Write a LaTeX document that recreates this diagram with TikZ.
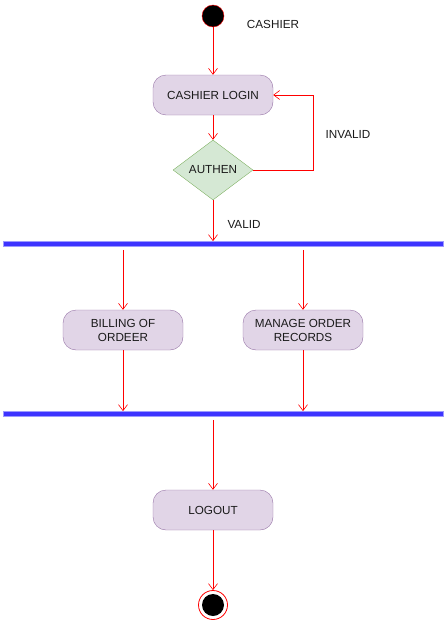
\documentclass[tikz,border=0pt]{standalone}
\usepackage{fontspec}
\setmainfont{Liberation Sans}
\usepackage{tikz}
\usetikzlibrary{arrows.meta,shapes.geometric}
\definecolor{lilac}{HTML}{E1D5E7}
\definecolor{plum}{HTML}{9673A6}
\definecolor{leaf}{HTML}{D5E8D4}
\definecolor{moss}{HTML}{82B366}
\definecolor{barblue}{HTML}{3D33FF}
\definecolor{barrim}{HTML}{9C99FF}
\definecolor{ink}{HTML}{1A1A1A}
\tikzset{
  every node/.style={font=\fontsize{11.7}{14}\selectfont,text=ink},
  activity/.style={draw=plum,fill=lilac,rounded corners=13pt,minimum width=120pt,minimum height=40pt,align=center,inner sep=2pt},
  decision/.style={diamond,draw=moss,fill=leaf,minimum width=80pt,minimum height=60pt,inner sep=0pt,aspect=1.33},
  forkbar/.style={draw=barrim,fill=barblue,minimum width=440pt,minimum height=5pt,inner sep=0pt,line width=0.8pt},
  flow/.style={-{Straight Barb[length=6pt,width=9pt]},draw=red,line width=0.6pt},
  startdot/.style={circle,draw=red,fill=black,minimum size=22pt,inner sep=0pt},
  lbl/.style={font=\fontsize{11.7}{14}\selectfont,text=ink},
}
\begin{document}
\begin{tikzpicture}[x=1pt,y=-1pt]
  \useasboundingbox (0,0) rectangle (446,621);
  % initial state and title
  \node[startdot] (start) at (213,16) {};
  \node[lbl] (cashier) at (273,24) {CASHIER};
  % login and check
  \node[activity] (login) at (213,95) {CASHIER LOGIN};
  \node[decision] (authen) at (213,170) {AUTHEN};
  \coordinate (loopc) at (313,170);
  \node[lbl] (invalid) at (348,134) {INVALID};
  \node[lbl] (valid) at (244,224) {VALID};
  % fork / join bars
  \node[forkbar] (fork) at (223,244) {};
  \node[forkbar] (join) at (223,414) {};
  % parallel work
  \node[activity] (billing) at (123,330) {BILLING OF\\ORDEER};
  \node[activity] (records) at (303,330) {MANAGE ORDER\\RECORDS};
  \node[activity] (logout) at (213,510) {LOGOUT};
  % final state
  \node[circle,draw=red,line width=0.8pt,minimum size=29pt,inner sep=0pt] (final) at (213,605) {};
  \fill[black] (final.center) circle (11pt);
  % connectors
  \draw[flow] (start) -- (login);
  \draw[flow] (login) -- (authen);
  \draw[flow] (authen.east) -- (loopc) |- (login.east);
  \draw[flow] (authen) -- (authen |- fork.north);
  \draw[flow] (fork.south -| billing) ++(0,3) -- (billing);
  \draw[flow] (fork.south -| records) ++(0,3) -- (records);
  \draw[flow] (billing) -- (billing |- join.north);
  \draw[flow] (records) -- (records |- join.north);
  \draw[flow] (join.south -| logout) ++(0,3) -- (logout);
  \draw[flow] (logout) -- (final);
\end{tikzpicture}
\end{document}
